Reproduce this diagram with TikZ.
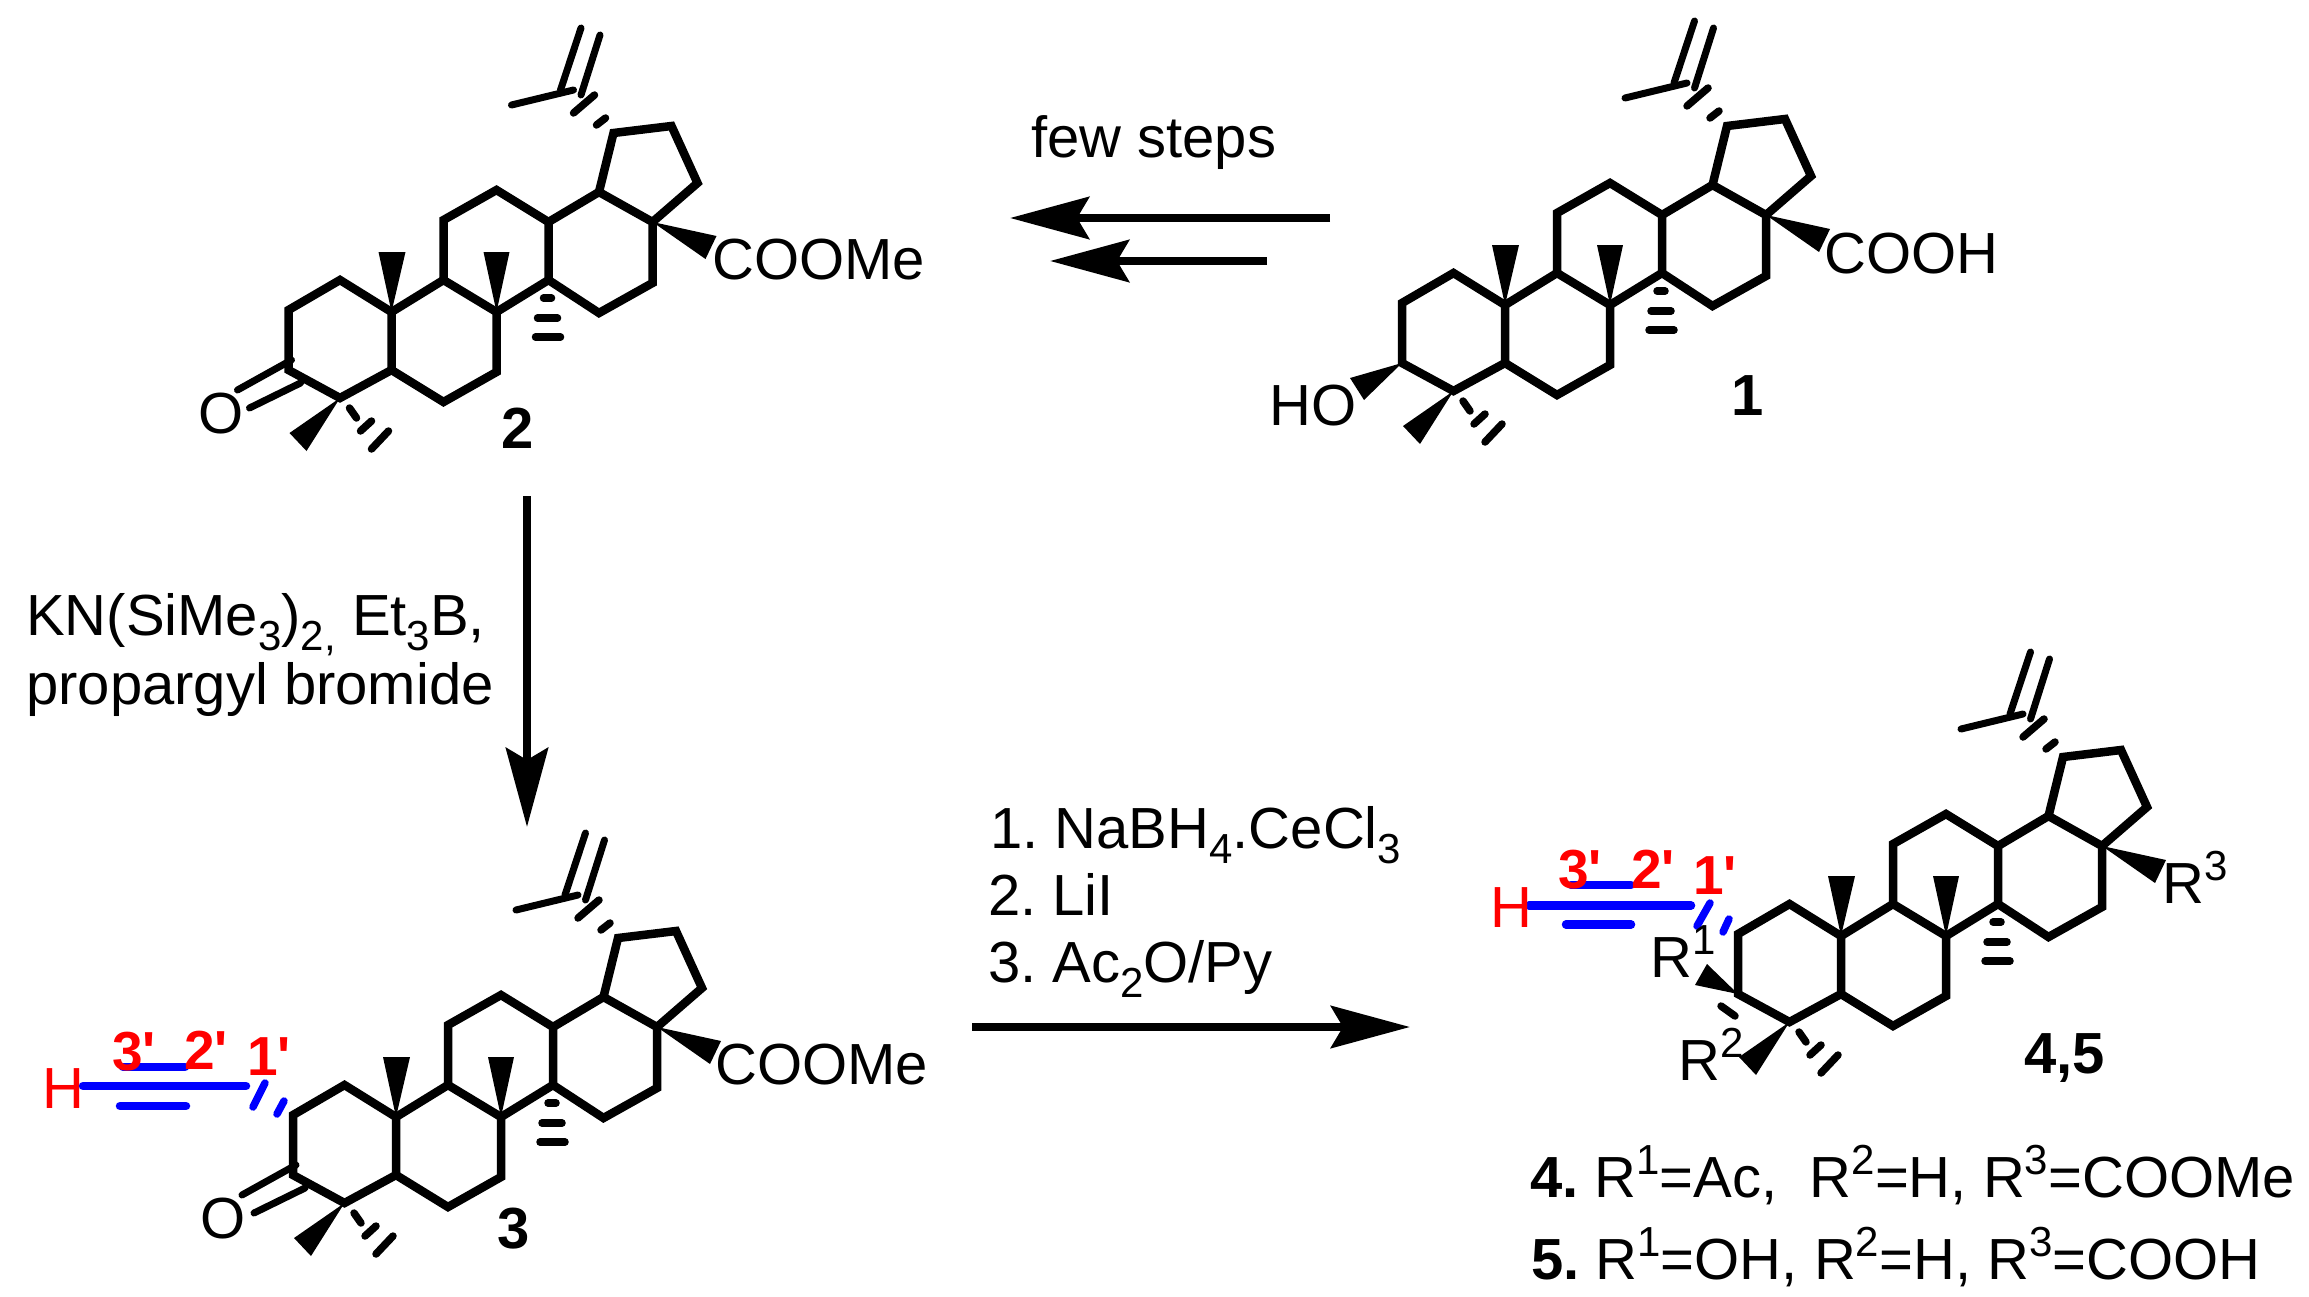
\documentclass[tikz,border=0pt]{standalone}
\usepackage{fontspec}
\setmainfont{Liberation Sans}
\usetikzlibrary{arrows.meta}
\frenchspacing
\newcommand{\chemsup}[1]{\raisebox{23pt}{\fontsize{42}{42}\selectfont #1}}
\newcommand{\chemsub}[1]{\raisebox{-15pt}{\fontsize{42}{42}\selectfont #1}}
\tikzset{
  bond/.style={line width=8.5pt,line join=miter,miter limit=10,line cap=round},
  thinbond/.style={line width=7pt,line cap=round},
  hashmark/.style={line width=7.5pt,line cap=round},
  wedge/.style={fill=black,draw=none},
  rxn/.style={line width=8.5pt,-{Stealth[length=79pt,width=42pt,inset=12pt]}},
  txt/.style={inner sep=0pt,anchor=base west,font=\fontsize{58}{60}\selectfont},
  bold/.style={txt,font=\fontsize{58}{60}\selectfont\bfseries},
  redlab/.style={txt,text=red,font=\fontsize{55}{60}\selectfont\bfseries},
  alkyne/.style={line width=8.5pt,draw=blue,line cap=round},
  wavy/.style={line width=7.5pt,draw=blue,line cap=round},
}
% triterpene skeleton, given in the coordinates of compound 2
\newcommand{\skeleton}{%
  \coordinate (a1) at (290,310); \coordinate (a2) at (341.5,280); \coordinate (a3) at (393,312);
  \coordinate (a4) at (393,370); \coordinate (a5) at (341.5,398); \coordinate (a6) at (290,370);
  \coordinate (b1) at (445,280); \coordinate (b2) at (498,312); \coordinate (b3) at (498,372); \coordinate (b4) at (445,402);
  \coordinate (c1) at (445,220); \coordinate (c2) at (498,190); \coordinate (c3) at (550,222); \coordinate (c4) at (550,280);
  \coordinate (d1) at (600.5,192); \coordinate (d2) at (654,222); \coordinate (d3) at (654,283); \coordinate (d4) at (600.5,313);
  \coordinate (e1) at (615,133); \coordinate (e2) at (673,126); \coordinate (e3) at (699,183);
  \coordinate (i0) at (562,90); \coordinate (i1) at (582.5,28); \coordinate (i2) at (582.5,95); \coordinate (i3) at (601.5,35);
  \coordinate (i4) at (513,105); \coordinate (i5) at (575,90);
  \draw[bond] (a1)--(a2)--(a3)--(a4)--(a5)--(a6)--cycle;
  \draw[bond] (a3)--(b1)--(b2)--(b3)--(b4)--(a4);
  \draw[bond] (b1)--(c1)--(c2)--(c3)--(c4)--(b2);
  \draw[bond] (c3)--(d1)--(d2)--(d3)--(d4)--(c4);
  \draw[bond] (d1)--(e1)--(e2)--(e3)--(d2);
  \draw[thinbond] (i0)--(i1); \draw[thinbond] (i2)--(i3); \draw[thinbond] (i4)--(i5);
  \draw[hashmark] (575,113)--(596,95); \draw[hashmark] (598,125)--(607,118);
  \fill[wedge] (a3)--(380,252)--(407,252)--cycle;
  \fill[wedge] (b2)--(485,252)--(511,252)--cycle;
  \fill[wedge] (d2)--(718,236)--(707,259)--cycle;
  \fill[wedge] (a5)--(291,433)--(308,451)--cycle;
  \draw[hashmark] (545,298)--(553,298); \draw[hashmark] (539,318)--(559,318); \draw[hashmark] (537,337)--(562,337);
  \draw[hashmark] (351,408)--(358,418); \draw[hashmark] (362,431)--(373,421); \draw[hashmark] (373,449)--(390,431);
}
\newcommand{\ketone}{%
  \coordinate (o1) at (239,390); \coordinate (o2) at (293,360); \coordinate (o3) at (251,408); \coordinate (o4) at (302,383);
  \draw[thinbond] (o2)--(o1); \draw[thinbond] (o4)--(o3);
}
\newcommand{\primed}[1]{#1\textquotesingle}
\begin{document}
\begin{tikzpicture}[x=1pt,y=-1pt]
\useasboundingbox (0,0) rectangle (2309,1296);
\fill[white] (0,0) rectangle (2309,1296);
% compound 2
\begin{scope}[shift={(-1.5,0)}]
  \skeleton \ketone
\end{scope}
\node[txt] (O2) at (198,433) {O};
\node[txt] (est2) at (712,279) {COOMe};
\node[bold,anchor=base] (lab2) at (518,448) {2};
% compound 1
\begin{scope}[shift={(1112,-7)}]
  \skeleton
  \fill[wedge] (a6)--(238,385)--(252,407)--cycle;
\end{scope}
\node[txt] (HO1) at (1269,425) {HO};
\node[txt] (acid1) at (1824,273) {COOH};
\node[bold,anchor=base] (lab1) at (1748,415) {1};
% compound 3
\begin{scope}[shift={(3,805)}]
  \skeleton \ketone
\end{scope}
\node[txt] (O3) at (200,1238) {O};
\node[txt] (est3) at (715,1084) {COOMe};
\node[bold,anchor=base] (lab3) at (514,1248) {3};
\node[txt,text=red] (H3) at (42,1108) {H};
\coordinate (t3a) at (83,1086); \coordinate (t3b) at (246,1086);
\coordinate (t3c) at (123,1067); \coordinate (t3d) at (185,1067);
\coordinate (t3e) at (120,1106); \coordinate (t3f) at (186,1106);
\draw[alkyne] (t3a)--(t3b); \draw[alkyne] (t3c)--(t3d); \draw[alkyne] (t3e)--(t3f);
\draw[wavy] (265,1083)--(253,1107); \draw[wavy] (284,1101)--(277,1114);
\node[redlab] (p33) at (112,1070) {\primed{3}};
\node[redlab] (p23) at (184,1069) {\primed{2}};
\node[redlab] (p13) at (247,1075) {\primed{1}};
% compound 4,5
\begin{scope}[shift={(1448,624)}]
  \skeleton
  \fill[wedge] (a6)--(259,340)--(247,361)--cycle;
  \draw[hashmark] (273,382)--(287,392);
\end{scope}
\coordinate (t4a) at (1529,905.5); \coordinate (t4b) at (1691,905.5);
\coordinate (t4c) at (1571,885); \coordinate (t4d) at (1631,885);
\coordinate (t4e) at (1566,924.5); \coordinate (t4f) at (1631,924.5);
\draw[alkyne] (t4a)--(t4b); \draw[alkyne] (t4c)--(t4d); \draw[alkyne] (t4e)--(t4f);
\draw[wavy] (1710,903)--(1697,926); \draw[wavy] (1729,919)--(1723,932);
\node[txt,text=red] (H4) at (1490,927) {H};
\node[redlab] (p34) at (1558,888) {\primed{3}};
\node[redlab] (p24) at (1631,888) {\primed{2}};
\node[redlab] (p14) at (1693,894) {\primed{1}};
\node[txt] (R1) at (1650,977) {R\chemsup{1}};
\node[txt] (R2) at (1678,1080) {R\chemsup{2}};
\node[txt] (R3) at (2162,903) {R\chemsup{3}};
\node[bold] (lab45) at (2024,1073) {4,5};
\node[txt] (line4) at (1530,1197) {\textbf{4.} R\chemsup{1}=Ac,\ \ R\chemsup{2}=H, R\chemsup{3}=COOMe};
\node[txt] (line5) at (1531,1279) {\textbf{5.} R\chemsup{1}=OH, R\chemsup{2}=H, R\chemsup{3}=COOH};
% reaction arrows
\coordinate (r1s) at (1330,218); \coordinate (r1e) at (1010,218);
\coordinate (r2s) at (1267,261); \coordinate (r2e) at (1050,261);
\coordinate (r3s) at (527,496); \coordinate (r3e) at (527,827);
\coordinate (r4s) at (972,1027); \coordinate (r4e) at (1410,1027);
\draw[rxn] (r1s)--(r1e);
\draw[rxn] (r2s)--(r2e);
\draw[rxn] (r3s)--(r3e);
\draw[rxn] (r4s)--(r4e);
% reagents
\node[txt] (few) at (1031,157) {few steps};
\node[txt] (kn) at (26,635) {KN(SiMe\chemsub{3})\chemsub{2,} Et\chemsub{3}B,};
\node[txt] (prop) at (26,704) {propargyl bromide};
\node[txt] (st1) at (990,848) {1. NaBH\chemsub{4}.CeCl\chemsub{3}};
\node[txt] (st2) at (988,915) {2. LiI};
\node[txt] (st3) at (988,982) {3. Ac\chemsub{2}O/Py};
\end{tikzpicture}
\end{document}
